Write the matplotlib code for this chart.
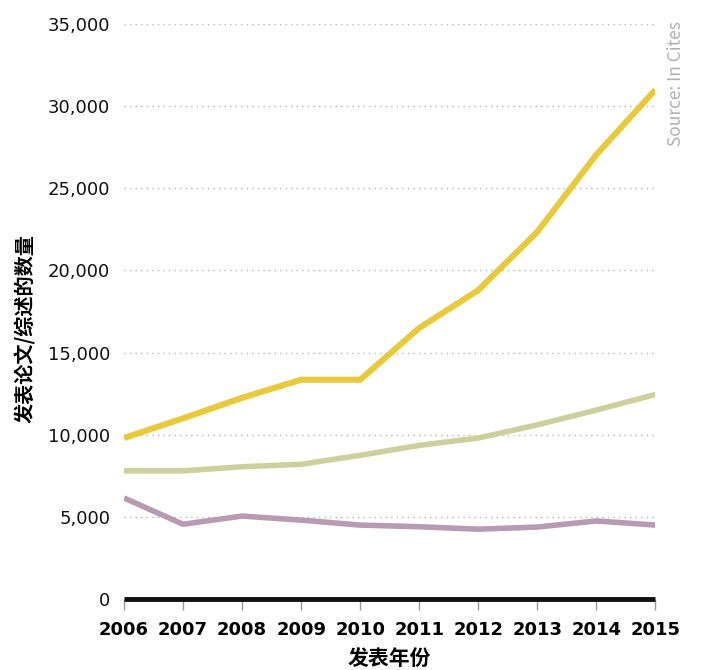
import matplotlib.pyplot as plt
from matplotlib.ticker import FuncFormatter

plt.rcParams['font.family'] = ['Noto Sans CJK SC', 'DejaVu Sans']

# Data
years = [2006, 2007, 2008, 2009, 2010, 2011, 2012, 2013, 2014, 2015]
series_yellow = [9800, 11000, 12250, 13350, 13350, 16500, 18800, 22350, 27050, 31000]
series_green = [7800, 7800, 8050, 8200, 8750, 9350, 9800, 10600, 11500, 12450]
series_purple = [6150, 4550, 5050, 4800, 4500, 4400, 4250, 4380, 4750, 4500]
y_ticks = [0, 5000, 10000, 15000, 20000, 25000, 30000, 35000]

fig = plt.figure(figsize=(7.17, 6.70), dpi=100)
ax = fig.add_axes([0.173, 0.106, 0.741, 0.858])

ax.plot(years, series_purple, color="#b89ab2", linewidth=4.0, solid_capstyle="butt")
ax.plot(years, series_green, color="#cdd09c", linewidth=4.0, solid_capstyle="butt")
ax.plot(years, series_yellow, color="#e9c93c", linewidth=4.4, solid_capstyle="butt")

ax.set_xlim(2006, 2015)
ax.set_ylim(0, 35000)
ax.set_xticks(years)
ax.set_yticks(y_ticks)
ax.yaxis.set_major_formatter(FuncFormatter(lambda v, p: f"{int(v):,}"))

# dotted gridlines
for yv in y_ticks[1:]:
    ax.axhline(yv, color="#b5b5b5", linestyle=(0, (1, 3)), linewidth=1.0, zorder=0)

for side in ["top", "right", "left"]:
    ax.spines[side].set_visible(False)
ax.spines["bottom"].set_linewidth(3.5)
ax.spines["bottom"].set_color("#111111")
ax.spines["bottom"].set_capstyle("butt")

ax.tick_params(axis="y", length=0, pad=10, labelsize=13, labelcolor="#111111")
ax.tick_params(axis="x", length=8, width=1, color="#999999", direction="out",
               pad=8, labelsize=13)
for lbl in ax.get_yticklabels():
    lbl.set_family("DejaVu Sans")
for lbl in ax.get_xticklabels():
    lbl.set_family("DejaVu Sans")
    lbl.set_fontweight("bold")

ax.set_xlabel("发表年份", fontsize=15, fontweight="bold", labelpad=6)
ax.set_ylabel("发表论文/综述的数量", fontsize=14.5, fontweight="bold", labelpad=14)
ax.yaxis.set_label_coords(-0.165, 0.47)

fig.text(0.943, 0.968, "Source: In Cites", rotation=90, va="top", ha="center",
         fontsize=12.5, color="#b0b0b0")

fig.savefig("out.png", dpi=100, facecolor="white")
